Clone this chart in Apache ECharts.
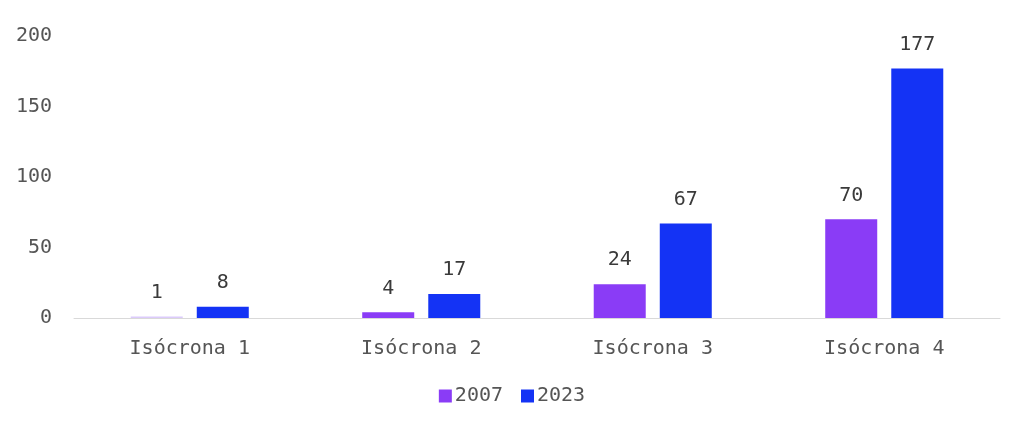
<!DOCTYPE html>
<html>
<head>
<meta charset="utf-8">
<script src="https://cdn.jsdelivr.net/npm/echarts@6/dist/echarts.min.js"></script>
<style>
  html, body { margin: 0; padding: 0; background: #fff; }
  #chart { width: 1024px; height: 428px; }
</style>
</head>
<body>
<div id="chart"></div>
<script>
  // datos
  const categories = ['Isócrona 1', 'Isócrona 2', 'Isócrona 3', 'Isócrona 4']
  const years = ['2007', '2023']
  const values2007 = [1, 4, 24, 70]
  const values2023 = [8, 17, 67, 177]
  const yTicks = [0, 50, 100, 150, 200]

  const font = 'DejaVu Sans Mono'
  const textColor = '#555'

  const chart = echarts.init(document.getElementById('chart'))
  chart.setOption({
    animation: false,
    textStyle: {fontFamily: font},
    legend: {
      data: years,
      bottom: 17,
      left: 'center',
      itemWidth: 13,
      itemHeight: 13,
      itemGap: 18,
      icon: 'rect',
      textStyle: {fontFamily: font, fontSize: 20, color: textColor, padding: [0, 0, 0, -2]}
    },
    grid: {left: 74, right: 24, top: 36, bottom: 110},
    xAxis: {
      type: 'category',
      data: categories,
      axisTick: {show: false},
      axisLine: {lineStyle: {color: '#d9d9d9'}},
      axisLabel: {fontFamily: font, fontSize: 20, color: textColor, margin: 21}
    },
    yAxis: {
      type: 'value',
      min: yTicks[0],
      max: yTicks[yTicks.length - 1],
      interval: 50,
      splitLine: {show: false},
      axisLine: {show: false},
      axisTick: {show: false},
      axisLabel: {fontFamily: font, fontSize: 20, color: textColor, margin: 22}
    },
    series: [
      {
        name: years[0],
        type: 'bar',
        barWidth: 52,
        barGap: '27%',
        itemStyle: {color: '#8a3cf6'},
        data: values2007.map((v, i) => i === 0 ? {value: v, itemStyle: {color: '#dccbfb'}} : v),
        label: {show: true, position: 'top', distance: 14, fontFamily: font, fontSize: 20, color: '#3a3a3a'}
      },
      {
        name: years[1],
        type: 'bar',
        barWidth: 52,
        itemStyle: {color: '#1433f5'},
        data: values2023,
        label: {show: true, position: 'top', distance: 14, fontFamily: font, fontSize: 20, color: '#3a3a3a'}
      }
    ]
  })
</script>
</body>
</html>
